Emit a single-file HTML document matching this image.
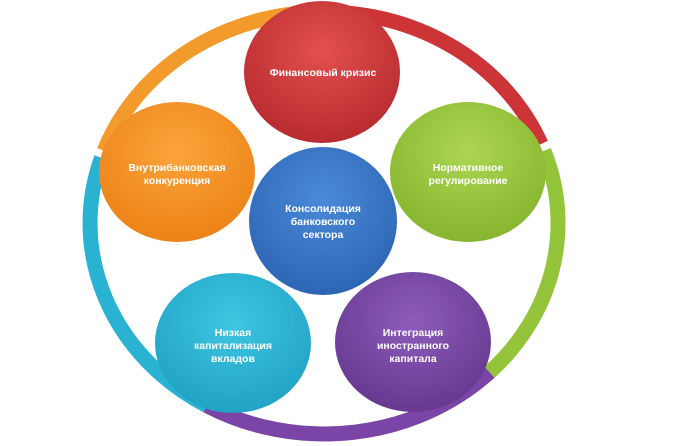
<!DOCTYPE html>
<html><head><meta charset="utf-8"><style>
html,body{margin:0;padding:0;background:#fff;}
svg{display:block}
text{font-family:"Liberation Sans","DejaVu Sans",sans-serif;font-weight:bold;font-size:10.5px;fill:#fff;text-anchor:middle}
</style></head><body>
<svg width="689" height="446" viewBox="0 0 689 446" xmlns="http://www.w3.org/2000/svg">
<defs>
<radialGradient id="gR" cx="50%" cy="35%" r="65%"><stop offset="0" stop-color="#e2504f"/><stop offset="1" stop-color="#b82b2e"/></radialGradient>
<radialGradient id="gO" cx="50%" cy="35%" r="65%"><stop offset="0" stop-color="#fba43a"/><stop offset="1" stop-color="#ec8318"/></radialGradient>
<radialGradient id="gG" cx="50%" cy="35%" r="65%"><stop offset="0" stop-color="#acd652"/><stop offset="1" stop-color="#86b52e"/></radialGradient>
<radialGradient id="gB" cx="50%" cy="35%" r="65%"><stop offset="0" stop-color="#4a8ad8"/><stop offset="1" stop-color="#2d65b4"/></radialGradient>
<radialGradient id="gC" cx="50%" cy="35%" r="65%"><stop offset="0" stop-color="#3fc6e2"/><stop offset="1" stop-color="#21a2c6"/></radialGradient>
<radialGradient id="gP" cx="50%" cy="35%" r="65%"><stop offset="0" stop-color="#8d5cbc"/><stop offset="1" stop-color="#66398f"/></radialGradient>
</defs>
<g fill="none" stroke-width="15">
<path d="M 207 405.7 A 234 211 0 0 1 101.5 157.8" stroke="#2ab2d2"/>
<path d="M 104.1 150.8 A 234 211 0 0 1 291.4 14.05" stroke="#f39a2c"/>
<path d="M 291.4 14.05 A 234 211 0 0 1 541 144" stroke="#cc3438"/>
<path d="M 543.9 150.8 A 234 211 0 0 1 489.5 372.2" stroke="#94c43a"/>
<path d="M 489.5 372.2 A 234 211 0 0 1 207 405.7" stroke="#7a45a6"/>
</g>
<ellipse cx="322" cy="72" rx="78" ry="71" fill="url(#gR)"/>
<ellipse cx="177" cy="172" rx="78" ry="70" fill="url(#gO)"/>
<ellipse cx="468" cy="172" rx="78" ry="70" fill="url(#gG)"/>
<ellipse cx="323" cy="221" rx="74" ry="74" fill="url(#gB)"/>
<ellipse cx="233" cy="343" rx="78" ry="70" fill="url(#gC)"/>
<ellipse cx="413" cy="342" rx="78" ry="70" fill="url(#gP)"/>
<text x="323" y="76">Финансовый кризис</text>
<text x="177" y="171">Внутрибанковская</text>
<text x="177" y="184">конкуренция</text>
<text x="468" y="171">Нормативное</text>
<text x="468" y="184">регулирование</text>
<text x="323" y="212">Консолидация</text>
<text x="323" y="225">банковского</text>
<text x="323" y="238">сектора</text>
<text x="233" y="336">Низкая</text>
<text x="233" y="349">капитализация</text>
<text x="233" y="362">вкладов</text>
<text x="413" y="336">Интеграция</text>
<text x="413" y="349">иностранного</text>
<text x="413" y="362">капитала</text>
</svg>
</body></html>
